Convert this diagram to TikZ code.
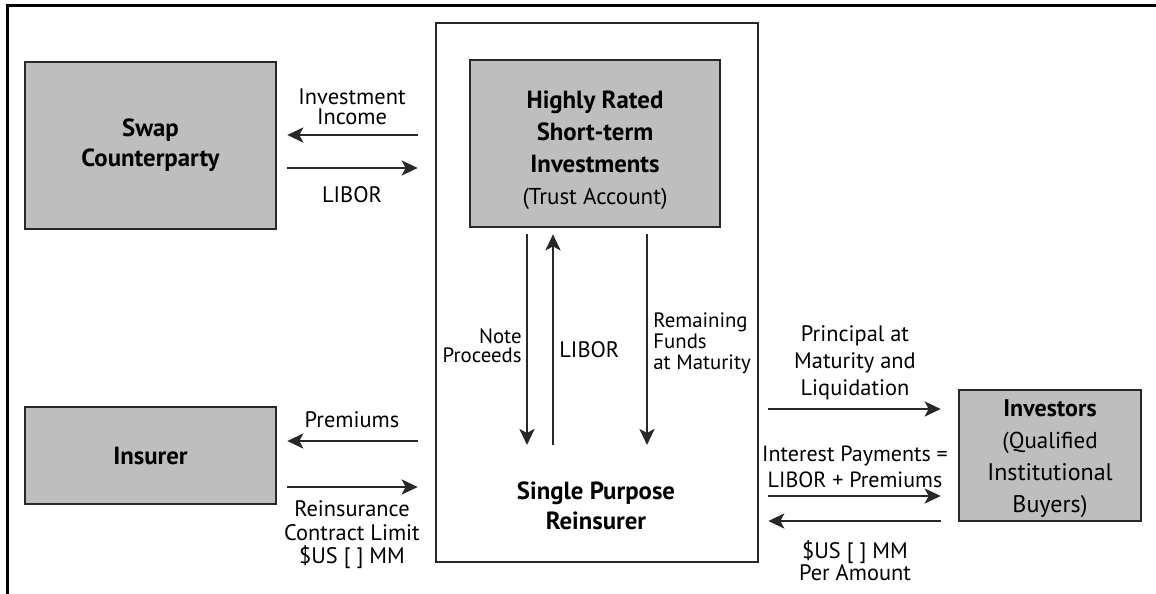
\documentclass[tikz,border=0pt]{standalone}
\usepackage{fontspec}
\setmainfont{PT Sans}
\usetikzlibrary{arrows.meta}
\definecolor{boxfill}{RGB}{190,190,190}
\definecolor{edge}{RGB}{40,40,40}
\tikzset{
  px/.style={x=0.5pt,y=-0.5pt},
  greybox/.style={draw=edge, line width=1.3pt, fill=boxfill, inner sep=0pt, align=center},
  outerbox/.style={draw=edge, line width=1.3pt, fill=white, inner sep=0pt},
  title/.style={font=\fontsize{12.4}{15}\selectfont\bfseries, align=center, inner sep=0pt},
  lbl/.style={font=\fontsize{11.2}{10}\selectfont, align=center, inner sep=0pt},
  arr/.style={draw=edge, line width=1.4pt, -{Stealth[length=8pt,width=7.5pt,inset=2pt]}},
}
\begin{document}
\begin{tikzpicture}[px]
\useasboundingbox (0,0) rectangle (1156,594);
% partial frame
\coordinate (fbl) at (7,594);
\coordinate (ftl) at (7,5);
\coordinate (ftr) at (1156,5);
\draw[line width=1.5pt, black] (fbl) -- (ftl) -- (ftr);

% boxes
\node[outerbox, minimum width=161pt, minimum height=269.5pt] (outer) at (597,292.5) {};
\node[greybox, minimum width=125.5pt, minimum height=83.5pt] (swap) at (150.5,145.5) {};
\node[title] at (swap.center) {Swap\\Counterparty};
\node[greybox, minimum width=125pt, minimum height=83.5pt] (trust) at (595,143.5) {};
\node[title, font=\fontsize{12.4}{16}\selectfont] (trusttxt) at (595,150) {\textbf{Highly Rated}\\\textbf{Short-term}\\\textbf{Investments}\\\mdseries\fontsize{11.5}{16}\selectfont (Trust Account)};
\node[greybox, minimum width=125.5pt, minimum height=48.5pt] (insurer) at (150.5,455.5) {};
\node[title] at (insurer.center) {Insurer};
\node[greybox, minimum width=91pt, minimum height=65.5pt] (investors) at (1050,455.5) {};
\node[title, font=\fontsize{12}{16}\selectfont] at (1050,459) {\textbf{Investors}\\\mdseries\fontsize{11.5}{16}\selectfont (Qualified\\Institutional\\Buyers)};
\node[title] (spr) at (596,506) {Single Purpose\\Reinsurer};

% left arrows
\coordinate (yii) at (0,135);
\coordinate (ylib) at (0,168);
\coordinate (yprem) at (0,441);
\coordinate (yre) at (0,487);
\draw[arr, shorten <=8.5pt, shorten >=5pt] (outer.west |- yii) -- (swap.east |- yii);
\draw[arr, shorten <=5pt, shorten >=8.5pt] (swap.east |- ylib) -- (outer.west |- ylib);
\draw[arr, shorten <=8.5pt, shorten >=5pt] (outer.west |- yprem) -- (insurer.east |- yprem);
\draw[arr, shorten <=5pt, shorten >=8.5pt] (insurer.east |- yre) -- (outer.west |- yre);
\node[lbl] at (352,107) {Investment\\Income};
\node[lbl] at (352,195) {LIBOR};
\node[lbl] at (352,420) {Premiums};
\node[lbl, font=\fontsize{11.2}{11.7}\selectfont] at (352,535) {Reinsurance\\Contract Limit\\\$US [ ] MM};

% vertical arrows
\coordinate (np) at (527,445);
\coordinate (lb) at (553,445);
\coordinate (rf) at (647,445);
\draw[arr, shorten <=3pt] (trust.south -| np) -- (np);
\draw[arr, shorten >=3pt] (lb) -- (trust.south -| lb);
\draw[arr, shorten <=3pt] (trust.south -| rf) -- (rf);
\node[lbl, align=right, anchor=east, font=\fontsize{10.4}{9.5}\selectfont] at (522,346) {Note\\Proceeds};
\node[lbl, anchor=west] at (559,350) {LIBOR};
\node[lbl, align=left, anchor=west, font=\fontsize{10.4}{10.5}\selectfont] at (653,343) {Remaining\\Funds\\at Maturity};

% right arrows
\coordinate (ypr) at (0,409);
\coordinate (yip) at (0,496);
\coordinate (yus) at (0,521);
\draw[arr, shorten <=4.5pt, shorten >=8.5pt] (outer.east |- ypr) -- (investors.west |- ypr);
\draw[arr, shorten <=4.5pt, shorten >=8.5pt] (outer.east |- yip) -- (investors.west |- yip);
\draw[arr, shorten <=8.5pt, shorten >=4.5pt] (investors.west |- yus) -- (outer.east |- yus);
\node[lbl, font=\fontsize{11.2}{13.5}\selectfont] at (855,363) {Principal at\\Maturity and\\Liquidation};
\node[lbl, font=\fontsize{11}{13}\selectfont] at (855,467) {Interest Payments =\\LIBOR + Premiums};
\node[lbl, font=\fontsize{11.2}{11}\selectfont] at (855,561) {\$US [ ] MM\\Per Amount};
\end{tikzpicture}
\end{document}
